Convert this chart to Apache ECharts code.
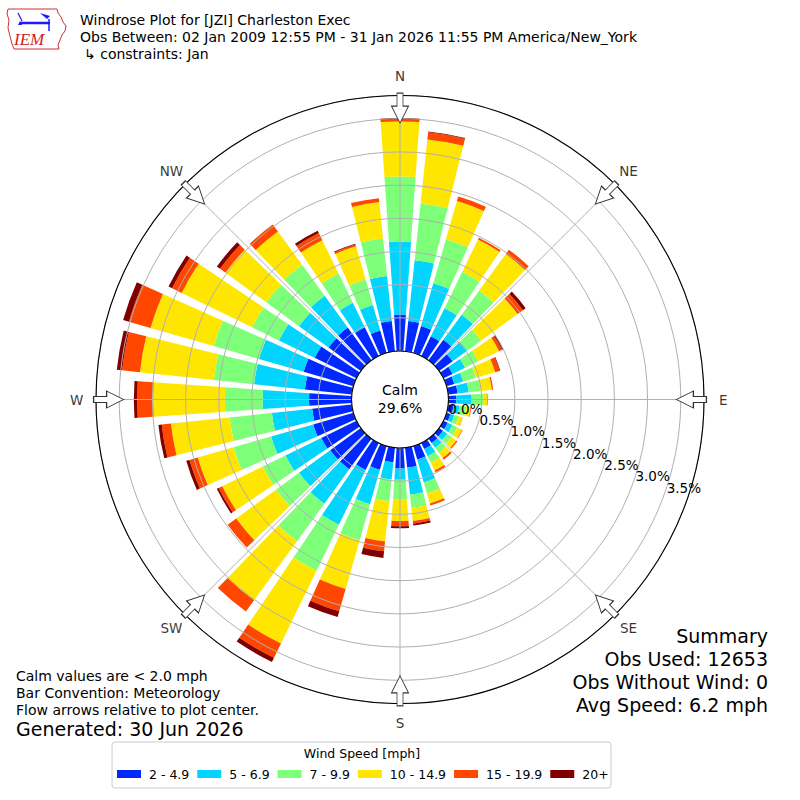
<!DOCTYPE html>
<html>
<head>
<meta charset="utf-8">
<script src="https://cdn.jsdelivr.net/npm/echarts@6/dist/echarts.min.js"></script>
<style>
html,body{margin:0;padding:0;background:#fff;}
#chart{width:800px;height:800px;}
</style>
</head>
<body>
<div id="chart"></div>
<script>
// ---------- DATA ----------
const directions = [0,10,20,30,40,50,60,70,80,90,100,110,120,130,140,150,160,170,180,190,200,210,220,230,240,250,260,270,280,290,300,310,320,330,340,350];
const speedBins = ['2 - 4.9', '5 - 6.9', '7 - 9.9', '10 - 14.9', '15 - 19.9', '20+'];
// frequency (%) per direction for each speed bin
const speed2to5   = [0.55,0.46,0.42,0.33,0.38,0.25,0.15,0.12,0.14,0.12,0.08,0.06,0.07,0.07,0.08,0.10,0.21,0.30,0.31,0.22,0.37,0.45,0.57,0.57,0.59,0.63,0.60,0.64,0.71,0.78,0.70,0.60,0.61,0.48,0.35,0.46];
const speed5to7   = [1.10,0.92,0.67,0.47,0.47,0.27,0.21,0.14,0.17,0.23,0.09,0.06,0.08,0.08,0.09,0.12,0.36,0.41,0.17,0.26,0.54,0.92,0.64,0.58,0.60,0.66,0.61,0.70,0.77,0.70,0.60,0.55,0.59,0.41,0.40,0.68];
const speed7to10  = [0.98,0.86,0.69,0.61,0.45,0.26,0.22,0.20,0.18,0.17,0.10,0.07,0.08,0.08,0.09,0.11,0.17,0.20,0.30,0.33,0.57,0.77,0.70,0.43,0.38,0.59,0.64,0.57,0.61,0.71,0.45,0.61,0.58,0.49,0.40,0.57];
const speed10to15 = [0.83,0.97,0.60,0.54,0.68,0.68,0.35,0.30,0.17,0.06,0.07,0.06,0.08,0.09,0.10,0.13,0.16,0.20,0.32,0.61,0.76,1.22,1.10,0.74,0.68,0.56,0.89,1.08,1.12,0.99,1.18,0.76,0.62,0.56,0.52,0.55];
const speed15to20 = [0.03,0.11,0.07,0.03,0.08,0.10,0.05,0.07,0.02,0.01,0.01,0.005,0.01,0.02,0.03,0.03,0.03,0.04,0.08,0.15,0.35,0.24,0.21,0.16,0.06,0.13,0.14,0.24,0.27,0.34,0.16,0.10,0.13,0.12,0.03,0.06];
const speed20plus = [0.02,0.01,0.00,0.00,0.00,0.05,0.02,0.01,0.00,0.00,0.00,0.00,0.00,0.00,0.00,0.00,0.00,0.03,0.03,0.10,0.09,0.07,0.00,0.00,0.03,0.05,0.05,0.05,0.08,0.09,0.06,0.06,0.00,0.04,0.01,0.00];
const compassAngles = [0,45,90,135,180,225,270,315];
const compassLabels = ['N','NE','E','SE','S','SW','W','NW'];
const radiusTicks = [0,0.5,1.0,1.5,2.0,2.5,3.0,3.5];
const radiusTickLabels = ['0.0%','0.5%','1.0%','1.5%','2.0%','2.5%','3.0%','3.5%'];
const calmPercent = 29.6;
const obsUsed = 12653;
const obsWithoutWind = 0;
const avgSpeed = 6.2;

// ---------- STYLE / LAYOUT ----------
const binColors = ['#0028ff','#00d4ff','#7dff7a','#ffe600','#ff4700','#800000'];
const FONT = 'DejaVu Sans';
const CX = 400, CY = 399.5, R0 = 48.5, R1 = 304;
const RMAX = 3.85;        // percent at the outer circle
const ARROW_R = 3.66;     // radial position of flow arrows (in %)
const LABEL_R = 4.14;     // radial position of compass labels (in %)
const LABEL_ANGLE = -19.8;

const seriesData = [speed2to5, speed5to7, speed7to10, speed10to15, speed15to20, speed20plus];

const chart = echarts.init(document.getElementById('chart'), null, {renderer:'svg', width:800, height:800});

function txt(x, y, text, size, align, extra) {
  return Object.assign({
    type:'text', x:x, y:y, silent:true, z:10,
    style:{text:text, fill:'#000', fontSize:size, fontFamily:FONT,
           textAlign:align, align:align, textVerticalAlign:'middle', verticalAlign:'middle'}
  }, extra || {});
}

function tickLabel(v, onlyZero) {
  const idx = radiusTicks.findIndex(t => Math.abs(t - v) < 1e-6);
  if (idx < 0) return '';
  if (onlyZero) return idx === 0 ? radiusTickLabels[idx] : '';
  return idx === 0 ? '' : radiusTickLabels[idx];
}

function labelRadiusAxis(polarIndex, onlyZero) {
  return {polarIndex:polarIndex, type:'value', min:0, max:RMAX, interval:0.5, z:6, axisLine:{show:false},
    axisTick:{show:false}, splitLine:{show:false},
    axisLabel:{show:true, showMinLabel:true, showMaxLabel:true, hideOverlap:false,
      margin:7.5, color:'#000', fontSize:13.5, fontFamily:FONT,
      formatter:function(v){ return tickLabel(v, onlyZero); }}};
}

const option = {
  animation:false,
  backgroundColor:'#fff',
  textStyle:{fontFamily:FONT},
  polar:[
    {center:[CX,CY], radius:[R0,R1]},
    {center:[CX,CY], radius:[R0,R1]},
    {center:[CX,CY], radius:[R0,R1]},
    {center:[CX,CY], radius:[R0,R1]}
  ],
  angleAxis:[
    {polarIndex:0, type:'category', data:directions.map(String), startAngle:95, clockwise:true, z:4,
     axisLine:{show:true, lineStyle:{color:'#000', width:1.1}}, axisTick:{show:false},
     axisLabel:{show:false}, splitLine:{show:false}, splitArea:{show:false}},
    {polarIndex:1, type:'value', min:0, max:360, interval:45, startAngle:90, clockwise:true, z:3,
     axisLine:{show:false}, axisTick:{show:false}, axisLabel:{show:false},
     splitLine:{show:true, lineStyle:{color:'#b0b0b0', width:1}}},
    {polarIndex:2, type:'value', min:0, max:360, startAngle:LABEL_ANGLE, clockwise:true, show:false},
    {polarIndex:3, type:'value', min:0, max:360, startAngle:LABEL_ANGLE, clockwise:true, show:false}
  ],
  radiusAxis:[
    {polarIndex:0, type:'value', min:0, max:RMAX, axisLine:{show:false}, axisTick:{show:false},
     axisLabel:{show:false}, splitLine:{show:false}},
    {polarIndex:1, type:'value', min:0, max:RMAX, interval:0.5, z:3, axisLine:{show:false},
     axisTick:{show:false}, axisLabel:{show:false},
     splitLine:{show:true, lineStyle:{color:'#b0b0b0', width:1}}},
    labelRadiusAxis(2, true),
    labelRadiusAxis(3, false)
  ],
  legend:{
    left:117, top:767, padding:0, itemWidth:24, itemHeight:8, itemGap:8, icon:'rect',
    selectedMode:false, data:speedBins,
    textStyle:{fontSize:12.5, color:'#000', fontFamily:FONT, padding:[0,0,0,3], lineHeight:14}
  },
  series: seriesData.map((arr, i) => ({
    type:'bar', name:speedBins[i], coordinateSystem:'polar', polarIndex:0, stack:'wind',
    data:arr, barCategoryGap:'20%', itemStyle:{color:binColors[i]}, z:2, silent:true
  })).concat([
    {type:'scatter', name:'arrows', coordinateSystem:'polar', polarIndex:1, z:5, silent:true, clip:false,
     symbol:'path://M5.5,0L11.5,0L11.5,13L17,13L8.5,30L0,13L5.5,13Z', symbolSize:[17,30],
     itemStyle:{color:'#fff', borderColor:'#333', borderWidth:1, opacity:1},
     data:compassAngles.map(a => ({value:[ARROW_R, a], symbolRotate:-a}))},
    {type:'scatter', name:'compass', coordinateSystem:'polar', polarIndex:1, z:6, silent:true, clip:false,
     symbolSize:1, itemStyle:{color:'rgba(0,0,0,0)'},
     label:{show:true, position:'inside', color:'#000', fontSize:13.5, fontFamily:FONT,
            formatter:function(p){ return compassLabels[p.dataIndex]; }},
     data:compassAngles.map(a => [LABEL_R, a])}
  ]),
  graphic:[
    // legend frame
    {type:'rect', shape:{x:112, y:742, width:499, height:46, r:3}, style:{fill:'#fff', stroke:'#cccccc', lineWidth:1}, z:0, silent:true},
    txt(362, 753, 'Wind Speed [mph]', 12.5, 'center'),
    // header
    txt(80, 19.5, 'Windrose Plot for [JZI] Charleston Exec', 14, 'left'),
    txt(80, 37, 'Obs Between: 02 Jan 2009 12:55 PM - 31 Jan 2026 11:55 PM America/New_York', 14, 'left'),
    txt(84, 54, '\u21b3 constraints: Jan', 14, 'left'),
    // calm
    txt(400, 390, 'Calm', 14, 'center'),
    txt(400, 407.5, calmPercent.toFixed(1) + '%', 14, 'center'),
    // bottom-left notes
    txt(16, 676, 'Calm values are < 2.0 mph', 14, 'left'),
    txt(16, 693, 'Bar Convention: Meteorology', 14, 'left'),
    txt(16, 710, 'Flow arrows relative to plot center.', 14, 'left'),
    txt(16, 729, 'Generated: 30 Jun 2026', 19, 'left'),
    // summary
    txt(768, 636, 'Summary', 19, 'right'),
    txt(768, 659, 'Obs Used: ' + obsUsed, 19, 'right'),
    txt(768, 682, 'Obs Without Wind: ' + obsWithoutWind, 19, 'right'),
    txt(768, 705, 'Avg Speed: ' + avgSpeed.toFixed(1) + ' mph', 19, 'right'),
    // IEM logo
    {type:'polyline', silent:true, z:1,
     shape:{points:[[8,9],[57,9],[58,13],[61,17],[63,22],[66,26],[65,31],[62,35],[60,40],[58,45],[59,49],[14,49],[12,44],[10,36],[8,28],[9,20],[7,14],[8,9]]},
     style:{stroke:'#d03030', fill:'#fff', lineWidth:1}},
    {type:'line', silent:true, z:2, shape:{x1:20, y1:23, x2:50, y2:23}, style:{stroke:'#1a1aff', lineWidth:2.5}},
    {type:'line', silent:true, z:2, shape:{x1:49, y1:19, x2:49, y2:31}, style:{stroke:'#1a1aff', lineWidth:1.5}},
    {type:'polygon', silent:true, z:2, shape:{points:[[40,13],[50,16],[47,19]]}, style:{fill:'#1a1aff'}},
    {type:'line', silent:true, z:2, shape:{x1:18, y1:13, x2:22, y2:21}, style:{stroke:'#1a1aff', lineWidth:1.2}},
    {type:'polygon', silent:true, z:2, shape:{points:[[18,25],[22,25],[20,21]]}, style:{fill:'#1a1aff'}},
    txt(14, 39, 'IEM', 17, 'left', {style:{text:'IEM', fill:'#cc2222', fontSize:17, fontStyle:'italic',
        fontFamily:'Liberation Serif', textAlign:'left', align:'left', textVerticalAlign:'middle', verticalAlign:'middle'}})
  ]
};
chart.setOption(option);
</script>
</body>
</html>
